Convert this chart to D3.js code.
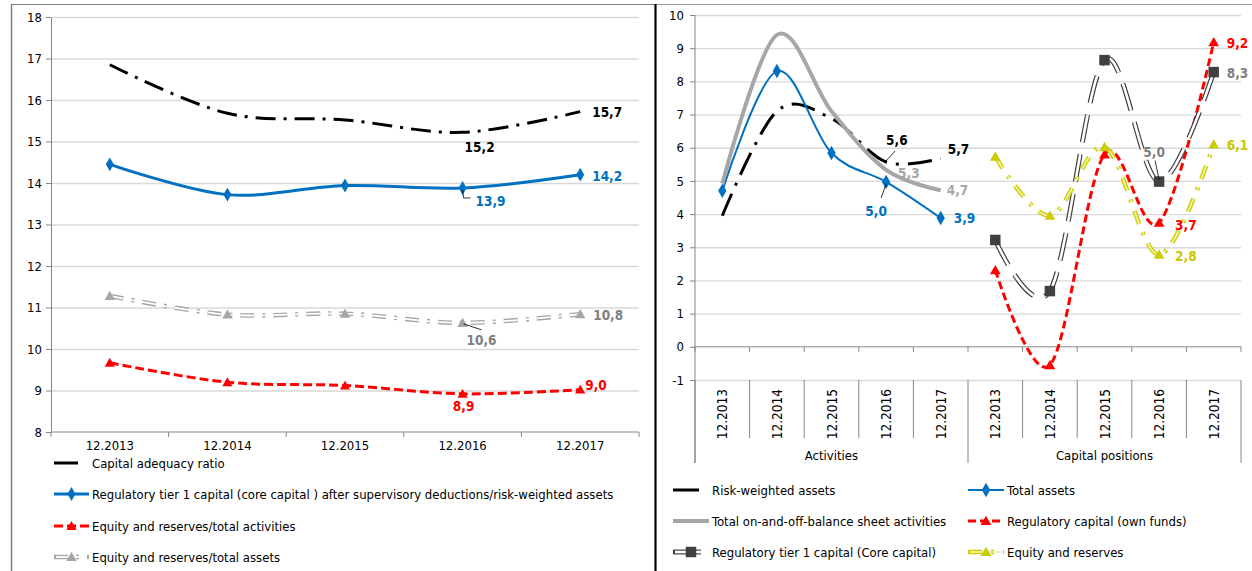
<!DOCTYPE html>
<html>
<head>
<meta charset="utf-8">
<script src="https://cdn.jsdelivr.net/npm/d3@7"></script>
<style>
  html, body { margin: 0; padding: 0; background: #fff; }
  svg { display: block; }
  text { font-family: "DejaVu Sans Condensed", "DejaVu Sans", sans-serif; }
</style>
</head>
<body>
<svg id="chart" width="1252" height="571"></svg>
<script>
// ---------- DATA ----------
const leftCategories = ["12.2013", "12.2014", "12.2015", "12.2016", "12.2017"];
const leftYTicks = [8, 9, 10, 11, 12, 13, 14, 15, 16, 17, 18];
const capitalAdequacyRatio = [16.85, 15.68, 15.52, 15.22, 15.72];
const tier1AfterDeductionsRWA = [14.45, 13.72, 13.94, 13.88, 14.2];
const equityReservesTotalActivities = [9.67, 9.2, 9.12, 8.92, 9.02];
const equityReservesTotalAssets = [11.28, 10.83, 10.85, 10.63, 10.84];

const rightGroups = ["Activities", "Capital positions"];
const rightCategories = ["12.2013", "12.2014", "12.2015", "12.2016", "12.2017"];
const rightYTicks = [-1, 0, 1, 2, 3, 4, 5, 6, 7, 8, 9, 10];
// Activities group
const riskWeightedAssets = [3.95, 7.1, 6.88, 5.57, 5.68];
const totalAssets = [4.7, 8.31, 5.84, 4.97, 3.88];
const totalOnOffBalance = [4.92, 9.4, 7.1, 5.33, 4.72];
// Capital positions group
const regulatoryCapital = [2.31, -0.55, 5.8, 3.74, 9.18];
const regulatoryTier1 = [3.22, 1.68, 8.64, 4.98, 8.28];
const equityAndReserves = [5.73, 3.95, 6.02, 2.78, 6.1];

const leftLegend = [
  "Capital adequacy ratio",
  "Regulatory tier 1 capital (core capital ) after supervisory deductions/risk-weighted assets",
  "Equity and reserves/total activities",
  "Equity and reserves/total assets"
];
const rightLegend = [
  "Risk-weighted assets", "Total assets",
  "Total on-and-off-balance sheet activities", "Regulatory capital (own funds)",
  "Regulatory tier 1 capital (Core capital)", "Equity and reserves"
];

// ---------- STYLES ----------
const ST = {
  cap:      { color: "#000000", width: 3, dash: "20,8,3,8" },
  tier1L:   { color: "#0070C0", width: 3, marker: "diamond", msize: 55 },
  eqAct:    { color: "#FF0000", width: 3, dash: "9,4", marker: "triangle", msize: 45 },
  eqAssets: { color: "#A6A6A6", width: 4.5, inner: "#ffffff", innerWidth: 1.8, dash: "14,8,3,8", marker: "triangle", msize: 48 },
  rwa:      { color: "#000000", width: 3, dash: "24,9,3,9" },
  ta:       { color: "#0070C0", width: 2, marker: "diamond", msize: 60 },
  onoff:    { color: "#A6A6A6", width: 4 },
  regcap:   { color: "#FF0000", width: 3, dash: "8,4", marker: "triangle", msize: 50 },
  tier1R:   { color: "#404040", width: 5, inner: "#ffffff", innerWidth: 2.6, dash: "28,12", marker: "square", msize: 110 },
  equity:   { color: "#CCCC00", width: 4.5, inner: "#F2F2A0", innerWidth: 1.8, dash: "14,9,3,9", marker: "triangle", msize: 50 }
};
const AXIS = "#868686", GRID = "#D9D9D9";
const FONT = "DejaVu Sans Condensed";
const FS = 13;

const svg = d3.select("#chart");

// ---------- PANELS ----------
svg.append("line").attr("x1", 11).attr("y1", 4.5).attr("x2", 655).attr("y2", 4.5).attr("stroke", "#7f7f7f").attr("stroke-width", 1.2);
svg.append("line").attr("x1", 11.5).attr("y1", 4).attr("x2", 11.5).attr("y2", 571).attr("stroke", "#7f7f7f").attr("stroke-width", 1.5);
svg.append("line").attr("x1", 656).attr("y1", 4.5).attr("x2", 1252).attr("y2", 4.5).attr("stroke", "#9a9a9a").attr("stroke-width", 1);
svg.append("line").attr("x1", 655.5).attr("y1", 4).attr("x2", 655.5).attr("y2", 571).attr("stroke", "#000").attr("stroke-width", 2.2);

// ---------- HELPERS ----------
const symType = { diamond: d3.symbolDiamond, triangle: d3.symbolTriangle, square: d3.symbolSquare };
function strokeLine(sel, st) {
  sel.attr("fill", "none").attr("stroke", st.color).attr("stroke-width", st.width);
  if (st.dash) sel.attr("stroke-dasharray", st.dash);
}
function drawSeries(g, pts, st) {
  const line = d3.line().x(d => d[0]).y(d => d[1]).curve(d3.curveCardinal.tension(0));
  const p = g.append("path").attr("d", line(pts));
  strokeLine(p, st);
  if (st.inner) {
    const q = g.append("path").attr("d", line(pts)).attr("fill", "none")
      .attr("stroke", st.inner).attr("stroke-width", st.innerWidth);
    if (st.dash) q.attr("stroke-dasharray", st.dash);
  }
  if (st.marker) {
    g.selectAll(null).data(pts).enter().append("path")
      .attr("d", d3.symbol().type(symType[st.marker]).size(st.msize))
      .attr("transform", d => `translate(${d[0]},${d[1] + (st.marker === "triangle" ? 1 : 0)})`)
      .attr("fill", st.mcolor || st.color);
  }
}
function legendSymbol(g, x1, x2, y, st, full) {
  const p = g.append("line").attr("x1", x1).attr("x2", x2).attr("y1", y).attr("y2", y);
  strokeLine(p, st);
  if (full) p.attr("stroke-dasharray", null);
  if (st.inner) {
    g.append("line").attr("x1", x1 + 2).attr("x2", x2 - 2).attr("y1", y).attr("y2", y)
      .attr("stroke", st.inner).attr("stroke-width", st.innerWidth);
  }
  if (st.marker) {
    g.append("path").attr("d", d3.symbol().type(symType[st.marker]).size(st.msize))
      .attr("transform", `translate(${(x1 + x2) / 2},${y + (st.marker === "triangle" ? 1 : 0)})`)
      .attr("fill", st.mcolor || st.color);
  }
}
const fmt = v => v.toFixed(1).replace(".", ",");
function dataLabel(g, px, py, v, color, o) {
  if (o.leader) {
    g.append("path").attr("d", d3.line()(o.leader.map(d => [px + d[0], py + d[1]])))
      .attr("fill", "none").attr("stroke", "#000").attr("stroke-width", 0.8);
  }
  g.append("text").attr("x", px + o.dx).attr("y", py + o.dy)
    .attr("text-anchor", o.anchor || "start").attr("dominant-baseline", "central")
    .attr("font-size", 13.5).attr("font-weight", "bold").attr("fill", color)
    .attr("font-family", FONT).text(fmt(v));
}
const plainNum = d => String(d);

// ---------- LEFT CHART ----------
const gl = svg.append("g");
const xL = d3.scaleBand().domain(leftCategories).range([51, 639]);
const yL = d3.scaleLinear().domain([8, 18]).range([432, 17]);
const cxL = c => xL(c) + xL.bandwidth() / 2;

gl.append("g").attr("transform", "translate(51,0)")
  .call(d3.axisLeft(yL).tickValues(leftYTicks.slice(1)).tickSize(-588).tickFormat(""))
  .call(g => g.select(".domain").remove())
  .call(g => g.selectAll("line").attr("stroke", GRID).attr("stroke-width", 1.3));

gl.append("g").attr("transform", "translate(51,0)")
  .call(d3.axisLeft(yL).tickValues(leftYTicks).tickSize(5).tickSizeOuter(0).tickPadding(4).tickFormat(plainNum))
  .call(g => g.select(".domain").attr("stroke", AXIS))
  .call(g => g.selectAll("line").attr("stroke", AXIS))
  .call(g => g.selectAll("text").attr("font-size", FS).attr("font-family", FONT).attr("fill", "#000"));

gl.append("line").attr("x1", 51).attr("x2", 639).attr("y1", yL(8)).attr("y2", yL(8)).attr("stroke", AXIS);
gl.selectAll(null).data(leftCategories.map(c => xL(c)).concat([xL.range()[1]])).enter().append("line")
  .attr("x1", d => d).attr("x2", d => d).attr("y1", yL(8)).attr("y2", yL(8) + 5).attr("stroke", AXIS);
gl.append("g").attr("transform", `translate(0,${yL(8)})`)
  .call(d3.axisBottom(xL).tickSize(0).tickPadding(9))
  .call(g => g.select(".domain").remove())
  .call(g => g.selectAll("text").attr("font-size", FS).attr("font-family", FONT).attr("fill", "#000"));

const ptsL = vals => leftCategories.map((c, i) => [cxL(c), yL(vals[i])]);
drawSeries(gl, ptsL(capitalAdequacyRatio), ST.cap);
drawSeries(gl, ptsL(tier1AfterDeductionsRWA), ST.tier1L);
drawSeries(gl, ptsL(equityReservesTotalActivities), ST.eqAct);
drawSeries(gl, ptsL(equityReservesTotalAssets), ST.eqAssets);

function labelL(vals, i, color, o) { dataLabel(gl, cxL(leftCategories[i]), yL(vals[i]), vals[i], color, o); }
labelL(capitalAdequacyRatio, 4, "#000", { dx: 12, dy: 0 });
labelL(capitalAdequacyRatio, 3, "#000", { dx: 17, dy: 15, anchor: "middle" });
labelL(tier1AfterDeductionsRWA, 4, "#0070C0", { dx: 12, dy: 1 });
labelL(tier1AfterDeductionsRWA, 3, "#0070C0", { dx: 13, dy: 13, leader: [[0, 2], [1, 10], [8, 10]] });
labelL(equityReservesTotalAssets, 4, "#7F7F7F", { dx: 13, dy: 1 });
labelL(equityReservesTotalAssets, 3, "#7F7F7F", { dx: 4, dy: 17, leader: [[1, 1], [19, 7]] });
labelL(equityReservesTotalActivities, 4, "#FF0000", { dx: 5, dy: -5 });
labelL(equityReservesTotalActivities, 3, "#FF0000", { dx: 1, dy: 12, anchor: "middle" });

// left legend
const llg = svg.append("g");
const leftStyles = [ST.cap, ST.tier1L, ST.eqAct, ST.eqAssets];
const leftRowsY = [463, 494, 526, 557];
leftLegend.forEach((t, i) => {
  const y = leftRowsY[i];
  if (i === 0) legendSymbol(llg, 54, 78, y, leftStyles[i], true);
  else legendSymbol(llg, 54, 89, y, leftStyles[i], false);
  llg.append("text").attr("x", 92).attr("y", y).attr("dominant-baseline", "central")
    .attr("font-size", FS).attr("font-family", FONT).attr("fill", "#000").text(t);
});

// ---------- RIGHT CHART ----------
const gr = svg.append("g");
const keys = [];
rightGroups.forEach(g => rightCategories.forEach(c => keys.push(g + "|" + c)));
const xR = d3.scaleBand().domain(keys).range([695, 1241]);
const yR = d3.scaleLinear().domain([-1, 10]).range([380, 15]);
const cxR = k => xR(k) + xR.bandwidth() / 2;

gr.append("g").attr("transform", "translate(695,0)")
  .call(d3.axisLeft(yR).tickValues(rightYTicks.filter(v => v !== 0)).tickSize(-546).tickFormat(""))
  .call(g => g.select(".domain").remove())
  .call(g => g.selectAll("line").attr("stroke", GRID).attr("stroke-width", 1.3));

gr.append("g").attr("transform", "translate(695,0)")
  .call(d3.axisLeft(yR).tickValues(rightYTicks).tickSize(5).tickSizeOuter(0).tickPadding(6).tickFormat(plainNum))
  .call(g => g.select(".domain").remove())
  .call(g => g.selectAll("line").attr("stroke", AXIS))
  .call(g => g.selectAll("text").attr("font-size", FS).attr("font-family", FONT).attr("fill", "#000"));
gr.append("line").attr("x1", 695).attr("x2", 695).attr("y1", yR(10)).attr("y2", 463).attr("stroke", AXIS);

// x axis at zero
gr.append("line").attr("x1", 695).attr("x2", 1241).attr("y1", yR(0)).attr("y2", yR(0)).attr("stroke", AXIS);
const boundsR = keys.map(k => xR(k)).concat([xR.range()[1]]);
gr.selectAll(null).data(boundsR).enter().append("line")
  .attr("x1", d => d).attr("x2", d => d).attr("y1", yR(0)).attr("y2", yR(0) + 5).attr("stroke", AXIS);
// category label separators
gr.selectAll(null).data(boundsR).enter().append("line")
  .attr("x1", d => d).attr("x2", d => d).attr("y1", yR(-1))
  .attr("y2", (d, i) => (i % rightCategories.length === 0) ? 463 : 438)
  .attr("stroke", AXIS);
// rotated category labels
gr.selectAll(null).data(keys).enter().append("text")
  .attr("transform", k => `translate(${cxR(k)},389) rotate(-90)`)
  .attr("text-anchor", "end").attr("dominant-baseline", "central")
  .attr("font-size", FS + 0.5).attr("font-family", FONT).attr("fill", "#000")
  .text(k => k.split("|")[1]);
// group labels
rightGroups.forEach(gname => {
  const ks = keys.filter(k => k.startsWith(gname + "|"));
  const x0 = xR(ks[0]), x1 = xR(ks[ks.length - 1]) + xR.bandwidth();
  gr.append("text").attr("x", (x0 + x1) / 2).attr("y", 455).attr("text-anchor", "middle")
    .attr("dominant-baseline", "central").attr("font-size", FS).attr("font-family", FONT)
    .attr("fill", "#000").text(gname);
});

const ptsR = (group, vals) => rightCategories.map((c, i) => [cxR(group + "|" + c), yR(vals[i])]);
drawSeries(gr, ptsR("Activities", riskWeightedAssets), ST.rwa);
drawSeries(gr, ptsR("Activities", totalAssets), ST.ta);
drawSeries(gr, ptsR("Activities", totalOnOffBalance), ST.onoff);
drawSeries(gr, ptsR("Capital positions", regulatoryCapital), ST.regcap);
drawSeries(gr, ptsR("Capital positions", regulatoryTier1), ST.tier1R);
drawSeries(gr, ptsR("Capital positions", equityAndReserves), ST.equity);

function labelR(group, vals, i, color, o) {
  dataLabel(gr, cxR(group + "|" + rightCategories[i]), yR(vals[i]), vals[i], color, o);
}
labelR("Activities", riskWeightedAssets, 3, "#000", { dx: 0, dy: -22, leader: [[9, -11], [-1, 0]] });
labelR("Activities", riskWeightedAssets, 4, "#000", { dx: 7, dy: -9 });
labelR("Activities", totalOnOffBalance, 3, "#A6A6A6", { dx: 12, dy: 3 });
labelR("Activities", totalOnOffBalance, 4, "#A6A6A6", { dx: 6, dy: 0 });
labelR("Activities", totalAssets, 3, "#0070C0", { dx: -10, dy: 29, anchor: "middle", leader: [[0, 2], [-5, 16]] });
labelR("Activities", totalAssets, 4, "#0070C0", { dx: 13, dy: 0 });
labelR("Capital positions", regulatoryCapital, 4, "#FF0000", { dx: 13, dy: 1 });
labelR("Capital positions", regulatoryTier1, 4, "#7F7F7F", { dx: 13, dy: 1 });
labelR("Capital positions", equityAndReserves, 4, "#C8C800", { dx: 13, dy: 1 });
labelR("Capital positions", regulatoryTier1, 3, "#7F7F7F", { dx: -5, dy: -30, anchor: "middle", leader: [[0, -2], [-4, -21]] });
labelR("Capital positions", regulatoryCapital, 3, "#FF0000", { dx: 16, dy: 2 });
labelR("Capital positions", equityAndReserves, 3, "#C8C800", { dx: 16, dy: 1 });

// right legend
const rlg = svg.append("g");
const rightStyles = [ST.rwa, ST.ta, ST.onoff, ST.regcap, ST.tier1R, ST.equity];
const rightRowsY = [490, 521, 552];
rightLegend.forEach((t, i) => {
  const row = Math.floor(i / 2), col = i % 2;
  const y = rightRowsY[row];
  const sx = col === 0 ? 673 : 968, tx = col === 0 ? 712 : 1007;
  if (i === 0) legendSymbol(rlg, sx, sx + 26, y, rightStyles[i], true);
  else legendSymbol(rlg, sx, sx + 36, y, rightStyles[i], false);
  rlg.append("text").attr("x", tx).attr("y", y).attr("dominant-baseline", "central")
    .attr("font-size", FS).attr("font-family", FONT).attr("fill", "#000").text(t);
});
</script>
</body>
</html>
